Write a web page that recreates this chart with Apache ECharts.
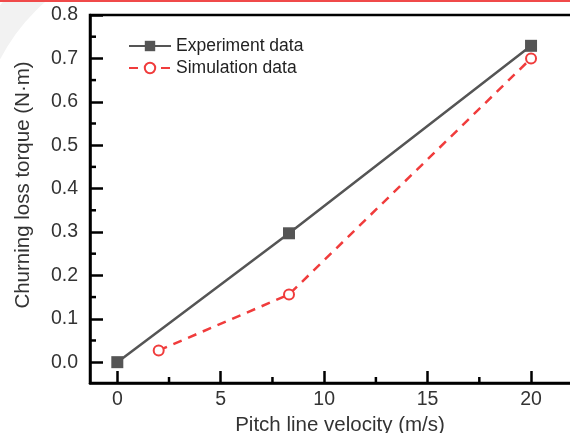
<!DOCTYPE html>
<html>
<head>
<meta charset="utf-8">
<script src="https://cdn.jsdelivr.net/npm/echarts@6/dist/echarts.min.js"></script>
<style>
  html, body { margin: 0; padding: 0; background: #fff; }
  #chart { width: 570px; height: 433px; }
</style>
</head>
<body>
<div id="chart"></div>
<script>
// data
const velocityExp = [0, 8.3, 20]
const torqueExp = [0, 0.297, 0.729]
const velocitySim = [2, 8.3, 20]
const torqueSim = [0.027, 0.156, 0.700]

// ticks
const xMajorTicks = [0, 5, 10, 15, 20]
const xMinorTicks = [2.5, 7.5, 12.5, 17.5]
const yMajorTicks = [0, 0.1, 0.2, 0.3, 0.4, 0.5, 0.6, 0.7, 0.8]
const yMinorTicks = [0.05, 0.15, 0.25, 0.35, 0.45, 0.55, 0.65, 0.75]

const X_MIN = -1.32
const X_MAX = 22.85
const Y_MIN = -0.048
const Y_MAX = 0.8

const FONT = '"Liberation Sans", Arial, sans-serif'
const chart = echarts.init(document.getElementById('chart'))

function zip(xs, ys) {
  return xs.map((x, i) => [x, ys[i]])
}

// short inner ticks, drawn through the axis scales
function minorTick(dir) {
  return function (params, api) {
    const p = api.coord([api.value(0), api.value(1)])
    const len = 6
    const shape = dir === 'x'
      ? { x1: p[0], y1: p[1], x2: p[0], y2: p[1] - len }
      : { x1: p[0], y1: p[1], x2: p[0] + len, y2: p[1] }
    return { type: 'line', shape, style: { stroke: '#000', lineWidth: 2.5 } }
  }
}

const option = {
  animation: false,
  backgroundColor: '#fff',
  graphic: [
    { // faint decoration in the top left corner
      type: 'arc',
      z: -10,
      silent: true,
      shape: { cx: 175, cy: 150, r: 212, startAngle: Math.PI, endAngle: Math.PI * 1.5 },
      style: { stroke: '#f2f2f2', lineWidth: 30, fill: null }
    },
    {
      type: 'rect',
      silent: true,
      shape: { x: 0, y: 0, width: 570, height: 2 },
      style: { fill: '#f04a4a' }
    }
  ],
  grid: {
    left: 90,
    top: 15,
    right: -20,
    bottom: 50,
    outerBoundsMode: 'none',
    containLabel: false,
    show: true,
    borderColor: '#000',
    borderWidth: 2.5,
    backgroundColor: 'transparent'
  },
  legend: {
    orient: 'vertical',
    left: 128,
    top: 37,
    padding: 0,
    itemWidth: 42,
    itemHeight: 13,
    itemGap: 4,
    data: ['Experiment data', 'Simulation data'],
    textStyle: { fontFamily: FONT, fontSize: 17.5, color: '#222' }
  },
  xAxis: {
    type: 'value',
    min: X_MIN,
    max: X_MAX,
    name: 'Pitch line velocity (m/s)',
    nameLocation: 'middle',
    nameGap: 26,
    nameTextStyle: { fontFamily: FONT, fontSize: 20.5, color: '#333' },
    axisLine: { onZero: false, lineStyle: { color: '#000', width: 2.5 } },
    axisTick: {
      inside: true,
      length: 12,
      customValues: xMajorTicks,
      lineStyle: { color: '#000', width: 2.5 }
    },
    axisLabel: {
      customValues: xMajorTicks,
      margin: 7,
      fontFamily: FONT,
      fontSize: 19.5,
      color: '#333'
    },
    splitLine: { show: false }
  },
  yAxis: {
    type: 'value',
    min: Y_MIN,
    max: Y_MAX,
    name: 'Churning loss torque (N·m)',
    nameLocation: 'middle',
    nameGap: 56,
    nameTextStyle: { fontFamily: FONT, fontSize: 20.5, color: '#333', padding: [0, 0, 0, 28] },
    axisLine: { onZero: false, lineStyle: { color: '#000', width: 2.5 } },
    axisTick: {
      inside: true,
      length: 13,
      customValues: yMajorTicks,
      lineStyle: { color: '#000', width: 2.5 }
    },
    axisLabel: {
      customValues: yMajorTicks,
      margin: 12,
      fontFamily: FONT,
      fontSize: 19.5,
      color: '#333',
      formatter: v => v.toFixed(1)
    },
    splitLine: { show: false }
  },
  series: [
    {
      name: 'Experiment data',
      type: 'line',
      data: zip(velocityExp, torqueExp),
      symbol: 'rect',
      symbolSize: 12,
      lineStyle: { color: '#555', width: 2.5 },
      itemStyle: { color: '#555' },
      z: 3
    },
    {
      name: 'Simulation data',
      type: 'line',
      data: zip(velocitySim, torqueSim),
      symbol: 'emptyCircle',
      symbolSize: 10,
      lineStyle: { color: '#f03c3c', width: 2.5, type: [9, 7] },
      itemStyle: { color: '#f03c3c', borderWidth: 2.5 },
      z: 4
    },
    {
      type: 'custom',
      silent: true,
      clip: false,
      renderItem: minorTick('x'),
      data: xMinorTicks.map(v => [v, Y_MIN])
    },
    {
      type: 'custom',
      silent: true,
      clip: false,
      renderItem: minorTick('y'),
      data: yMinorTicks.map(v => [X_MIN, v])
    }
  ]
}

chart.setOption(option)
</script>
</body>
</html>
